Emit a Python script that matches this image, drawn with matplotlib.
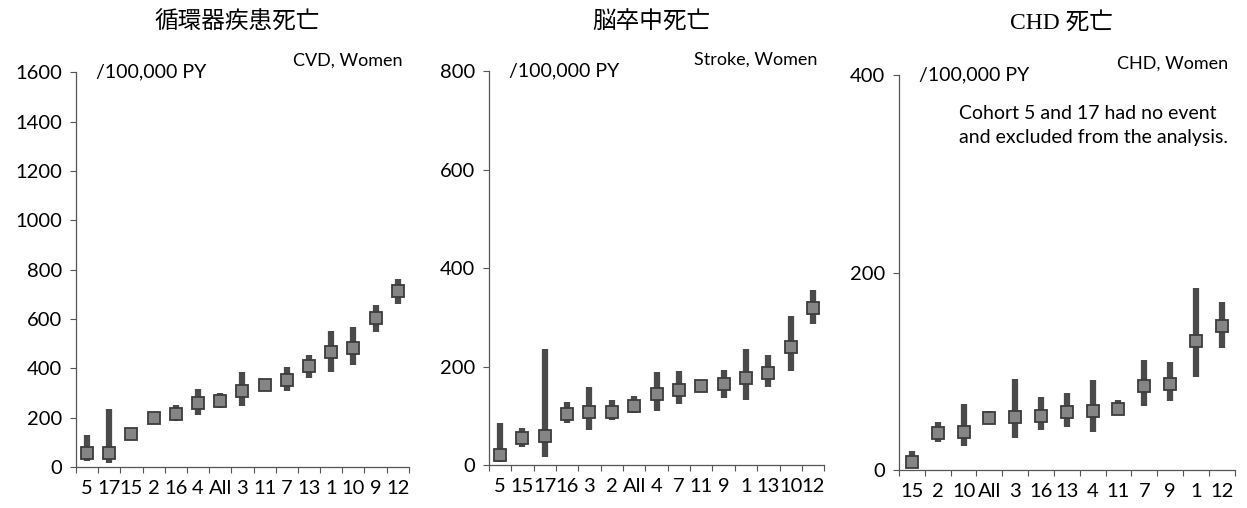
import numpy as np
import matplotlib
matplotlib.use("Agg")
import matplotlib.pyplot as plt

plt.rcParams['font.family'] = ['Lato', 'DejaVu Sans']

# CVD, women
cvd_labels = ['5', '17', '15', '2', '16', '4', 'All', '3', '11', '7', '13', '1', '10', '9', '12']
cvd_rate = [55, 55, 135, 200, 216, 259, 267, 310, 333, 354, 408, 466, 482, 603, 713]
cvd_low = [25, 15, 110, 180, 186, 209, 239, 246, 313, 308, 362, 385, 412, 547, 662]
cvd_high = [130, 235, 160, 215, 250, 317, 300, 385, 344, 405, 456, 553, 567, 655, 763]

# Stroke, women
stk_labels = ['5', '15', '17', '16', '3', '2', 'All', '4', '7', '11', '9', '1', '13', '10', '12']
stk_rate = [20, 54, 59, 103, 107, 108, 120, 145, 152, 160, 164, 176, 187, 240, 320]
stk_low = [7, 37, 16, 85, 72, 91, 105, 110, 125, 149, 137, 132, 158, 191, 287]
stk_high = [86, 76, 235, 128, 158, 132, 140, 189, 191, 172, 194, 235, 223, 303, 355]

# CHD, women
chd_labels = ['15', '2', '10', 'All', '3', '16', '13', '4', '11', '7', '9', '1', '12']
chd_rate = [8, 37, 39, 53, 54, 55, 59, 60, 62, 85, 87, 131, 146]
chd_low = [4, 28, 24, 47, 32, 41, 44, 39, 56, 65, 70, 94, 124]
chd_high = [19, 49, 67, 60, 92, 74, 78, 91, 71, 111, 109, 184, 170]

panels = [
    ('循環器疾患死亡', 'CVD, Women', cvd_labels, cvd_rate, cvd_low, cvd_high, 1600, 200,
     [0.0609, 0.0807, 0.267, 0.777]),
    ('脳卒中死亡', 'Stroke, Women', stk_labels, stk_rate, stk_low, stk_high, 800, 200,
     [0.392, 0.0846, 0.269, 0.775]),
    ('CHD 死亡', 'CHD, Women', chd_labels, chd_rate, chd_low, chd_high, 400, 200,
     [0.721, 0.0748, 0.269, 0.777]),
]

fig = plt.figure(figsize=(12.47, 5.08), dpi=100)

for title, tag, labels, rate, low, high, ymax, ystep, pos in panels:
    ax = fig.add_axes(pos)
    x = np.arange(len(labels))
    rate = np.array(rate)
    yerr = [rate - np.array(low), np.array(high) - rate]
    ax.errorbar(x, rate, yerr=yerr, fmt='s', color='#4a4a4a', elinewidth=4.5,
                capsize=0, markersize=8, markerfacecolor='#858585',
                markeredgecolor='#3c3c3c', markeredgewidth=1.3)
    ax.set_xlim(-0.5, len(labels) - 0.5)
    ax.set_ylim(0, ymax)
    ax.set_yticks(np.arange(0, ymax + 1, ystep))
    ax.set_xticks(x)
    ax.set_xticklabels(labels)
    ax.set_xticks(np.arange(-0.5, len(labels)), minor=True)
    ax.tick_params(axis='x', which='major', length=0, labelsize=14.5, pad=9)
    ax.tick_params(axis='x', which='minor', length=4, width=0.8, color='#555555')
    ax.tick_params(axis='y', length=4, width=0.8, color='#555555', labelsize=14.5, pad=6)
    for s in ['top', 'right']:
        ax.spines[s].set_visible(False)
    for s in ['left', 'bottom']:
        ax.spines[s].set_color('#555555')
        ax.spines[s].set_linewidth(0.9)
    ax.text(0.06, 1.0, '/100,000 PY', transform=ax.transAxes, fontsize=14,
            va='center', ha='left')
    ax.text(0.98, 1.03, tag, transform=ax.transAxes, fontsize=13,
            va='center', ha='right')
    bbox = ax.get_position()
    fig.text((bbox.x0 + bbox.x1) / 2 - 0.004, 0.955, title, fontsize=17, ha='center', va='center',
             family=['Liberation Serif', 'Noto Sans CJK JP'])
    if tag.startswith('CHD'):
        ax.text(0.18, 0.925, 'Cohort 5 and 17 had no event\nand excluded from the analysis.',
                transform=ax.transAxes, fontsize=14, va='top', ha='left', linespacing=1.5)

fig.savefig('out.png', dpi=100)
